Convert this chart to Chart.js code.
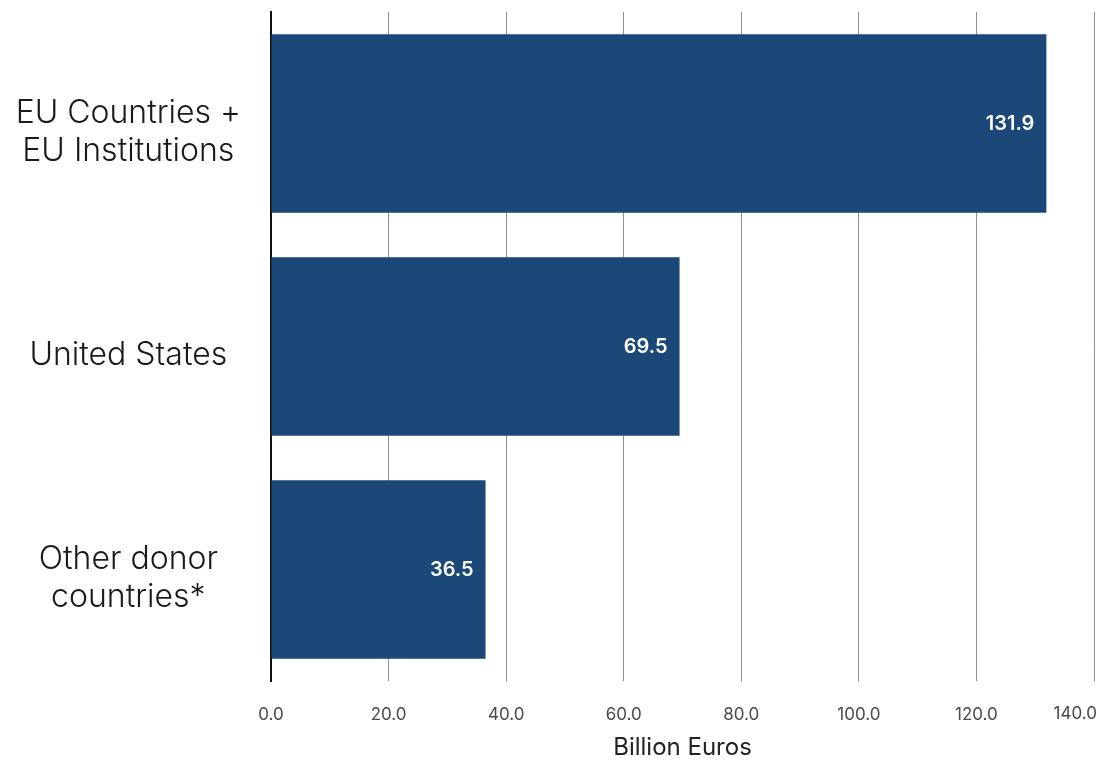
<!DOCTYPE html>
<html>
<head>
<meta charset="utf-8">
<script src="https://cdn.jsdelivr.net/npm/chart.js@4"></script>
<style>
  html, body { margin: 0; padding: 0; background: #fff; }
  #wrap { width: 1097px; height: 762px; }
</style>
</head>
<body>
<div id="wrap"><canvas id="myChart" width="1097" height="762"></canvas></div>
<script>
// Donor totals, billion euros
const donors = [["EU Countries +", "EU Institutions"], "United States", ["Other donor", "countries*"]];
const amounts = [131.9, 69.5, 36.5];
const xTicks = [0, 20, 40, 60, 80, 100, 120, 140];

const barBlue = '#1b4779';
const tickFont = '17px Inter';
const tickColor = '#4a4a4a';

// white value text near the end of each bar, plus the last x tick
// drawn right-aligned so it stays inside the canvas
const valueLabels = {
    id: 'valueLabels',
    afterDatasetsDraw(chart) {
        const c = chart.ctx;
        const meta = chart.getDatasetMeta(0);
        c.save();
        c.fillStyle = '#ffffff';
        c.font = '600 20px Inter';
        c.textAlign = 'right';
        c.textBaseline = 'middle';
        meta.data.forEach((bar, i) => {
            c.fillText(amounts[i].toFixed(1), bar.x - 12, bar.y);
        });
        c.restore();
    },
    afterDraw(chart) {
        const c = chart.ctx;
        const xs = chart.scales.x;
        const last = xTicks[xTicks.length - 1];
        c.save();
        c.fillStyle = tickColor;
        c.font = tickFont;
        c.textAlign = 'right';
        c.textBaseline = 'middle';
        c.fillText(last.toFixed(1), xs.getPixelForValue(last) + 3, chart.chartArea.bottom + 33);
        c.restore();
    }
};

const ctx = document.getElementById('myChart').getContext('2d');

new Chart(ctx, {
    type: 'bar',
    data: {
        labels: donors,
        datasets: [{
            data: amounts,
            backgroundColor: barBlue,
            borderWidth: 0,
            barPercentage: 0.8,
            categoryPercentage: 1.0
        }]
    },
    options: {
        indexAxis: 'y',
        responsive: false,
        animation: false,
        layout: { padding: { top: 12, right: 3, left: 0, bottom: 0 } },
        plugins: {
            legend: { display: false },
            tooltip: { enabled: false }
        },
        scales: {
            x: {
                min: 0,
                max: 140,
                afterBuildTicks(scale) {
                    scale.ticks = xTicks.map(v => ({ value: v }));
                },
                afterFit(scale) {
                    scale.height = 81;
                    scale.paddingLeft = 0;
                    scale.paddingRight = 0;
                },
                grid: {
                    color: '#8f8f8f',
                    lineWidth: 1,
                    drawTicks: false
                },
                border: { display: false },
                ticks: {
                    padding: 24,
                    color: tickColor,
                    font: { family: 'Inter', size: 17 },
                    callback: v => (v === 140 ? '' : v.toFixed(1))
                },
                title: {
                    display: true,
                    text: 'Billion Euros',
                    color: '#222',
                    font: { family: 'Inter', size: 24 },
                    padding: { top: 6, bottom: 0 }
                }
            },
            y: {
                afterFit(scale) {
                    scale.width = 271;
                    scale.paddingTop = 0;
                    scale.paddingBottom = 0;
                },
                grid: { display: false, drawTicks: false },
                border: { display: true, color: '#111', width: 2 },
                ticks: {
                    crossAlign: 'center',
                    padding: 30,
                    labelOffset: 9,
                    color: '#1a1a1a',
                    font: { family: 'Inter', size: 32, weight: '300', lineHeight: 1.19 }
                }
            }
        }
    },
    plugins: [valueLabels]
});
</script>
</body>
</html>
